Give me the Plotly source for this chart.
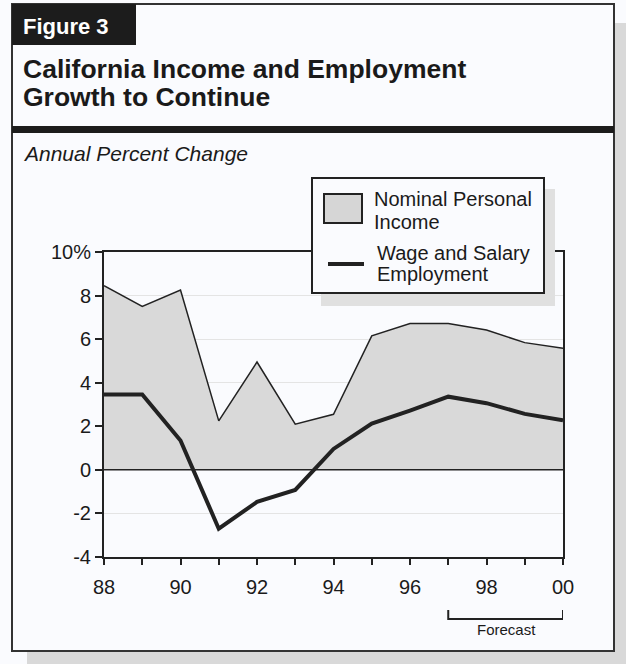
import plotly.graph_objects as go

# ---- data ----
years = [88, 89, 90, 91, 92, 93, 94, 95, 96, 97, 98, 99, 100]
personal_income = [8.45, 7.5, 8.25, 2.25, 4.95, 2.1, 2.55, 6.15, 6.72, 6.72, 6.42, 5.84, 5.58]
employment = [3.46, 3.46, 1.35, -2.7, -1.47, -0.92, 0.96, 2.12, 2.72, 3.36, 3.06, 2.57, 2.28]
x_tickvals = [88, 90, 92, 94, 96, 98, 100]
x_ticktext = ["88", "90", "92", "94", "96", "98", "00"]
y_tickvals = [-4, -2, 0, 2, 4, 6, 8, 10]
y_ticktext = ["-4", "-2", "0", "2", "4", "6", "8", "10%"]
forecast_start, forecast_end = 97, 100

# ---- layout geometry (pixels) ----
W, H = 626, 664
L, R, T, B = 104, 563, 252, 557
FONT = "Liberation Sans, Arial, sans-serif"
BG = "#fafbfe"


def fx(px):
    return (px - L) / (R - L)


def fy(py):
    return (B - py) / (B - T)


fig = go.Figure()
fig.add_trace(go.Scatter(
    x=years, y=personal_income, mode="lines", fill="tozeroy",
    fillcolor="#d9d9d9", line=dict(color="#222222", width=1.5),
    name="Nominal Personal Income", hoverinfo="x+y"))
fig.add_trace(go.Scatter(
    x=years, y=employment, mode="lines",
    line=dict(color="#222222", width=4),
    name="Wage and Salary Employment"))

shapes = []
# frame shadow
shapes.append(dict(type="rect", xref="paper", yref="paper", layer="below",
                   x0=fx(27), x1=fx(640), y0=fy(23), y1=fy(680),
                   fillcolor="#d9d9d9", line=dict(width=0)))
# frame
shapes.append(dict(type="rect", xref="paper", yref="paper", layer="below",
                   x0=fx(12), x1=fx(614), y0=fy(4), y1=fy(651),
                   fillcolor=BG, line=dict(color="#333333", width=2)))
# Figure 3 tab
shapes.append(dict(type="rect", xref="paper", yref="paper", layer="below",
                   x0=fx(12), x1=fx(136), y0=fy(4), y1=fy(45),
                   fillcolor="#1c1c1c", line=dict(width=0)))
# thick rule under the title
shapes.append(dict(type="rect", xref="paper", yref="paper", layer="below",
                   x0=fx(12), x1=fx(614), y0=fy(126), y1=fy(133),
                   fillcolor="#1c1c1c", line=dict(width=0)))
# zero line
shapes.append(dict(type="line", xref="paper", yref="y", layer="above",
                   x0=fx(97), x1=1, y0=0, y1=0,
                   line=dict(color="#222222", width=1.5)))
# legend shadow + box
shapes.append(dict(type="rect", xref="paper", yref="paper", layer="above",
                   x0=fx(321), x1=fx(555), y0=fy(189), y1=fy(306),
                   fillcolor="#e0e0e0", line=dict(width=0)))
shapes.append(dict(type="rect", xref="paper", yref="paper", layer="above",
                   x0=fx(312), x1=fx(544), y0=fy(178), y1=fy(293),
                   fillcolor=BG, line=dict(color="#222222", width=2)))
# legend swatches
shapes.append(dict(type="rect", xref="paper", yref="paper", layer="above",
                   x0=fx(324), x1=fx(362), y0=fy(194), y1=fy(223),
                   fillcolor="#d6d6d6", line=dict(color="#222222", width=2)))
shapes.append(dict(type="line", xref="paper", yref="paper", layer="above",
                   x0=fx(328), x1=fx(364), y0=fy(264), y1=fy(264),
                   line=dict(color="#222222", width=4)))
# forecast bracket
shapes.append(dict(type="path", xref="x", yref="paper", layer="above",
                   path="M {a},{y0} L {a},{y1} L {b},{y1} L {b},{y0}".format(
                       a=forecast_start, b=forecast_end, y0=fy(610), y1=fy(619)),
                   line=dict(color="#222222", width=2)))

annotations = []


def text(s, px, py, size, color="#1a1a1a", xanchor="left"):
    annotations.append(dict(text=s, x=fx(px), y=fy(py), xref="paper", yref="paper",
                            xanchor=xanchor, yanchor="middle", showarrow=False,
                            borderpad=0, font=dict(family=FONT, size=size, color=color)))


text("<b>Figure 3</b>", 22, 26, 22, color="white")
text("<b>California Income and Employment</b>", 22, 69, 26.5)
text("<b>Growth to Continue</b>", 22, 97, 26.5)
text("<i>Annual Percent Change</i>", 22, 153, 21)
text("Nominal Personal", 373, 199, 20)
text("Income", 373, 222, 20)
text("Wage and Salary", 376, 253, 20)
text("Employment", 376, 274, 20)
text("Forecast", 506, 629, 15, xanchor="center")

fig.update_layout(
    width=W, height=H,
    margin=dict(l=L, r=W - R, t=T, b=H - B, pad=0),
    paper_bgcolor=BG, plot_bgcolor="rgba(0,0,0,0)",
    showlegend=False,
    shapes=shapes, annotations=annotations,
    font=dict(family=FONT, size=20, color="#1a1a1a"),
    xaxis=dict(range=[88, 100], tickvals=x_tickvals, ticktext=x_ticktext,
               ticks="outside", ticklen=6, tickwidth=2, tickcolor="#222222",
               minor=dict(dtick=1, tick0=88, ticks="outside", ticklen=6,
                          tickwidth=2, tickcolor="#222222", showgrid=False),
               showline=True, linewidth=2, linecolor="#222222", mirror=True,
               showgrid=False, zeroline=False, automargin=False,
               ticklabelstandoff=5,
               tickfont=dict(family=FONT, size=20, color="#1a1a1a")),
    yaxis=dict(range=[-4, 10], tickvals=y_tickvals, ticktext=y_ticktext,
               ticks="outside", ticklen=7, tickwidth=2, tickcolor="#222222",
               showline=True, linewidth=2, linecolor="#222222", mirror=True,
               showgrid=True, gridcolor="#e4e4e4", gridwidth=1,
               zeroline=False, automargin=False,
               tickfont=dict(family=FONT, size=20, color="#1a1a1a")),
)

fig.write_html("out.html")
